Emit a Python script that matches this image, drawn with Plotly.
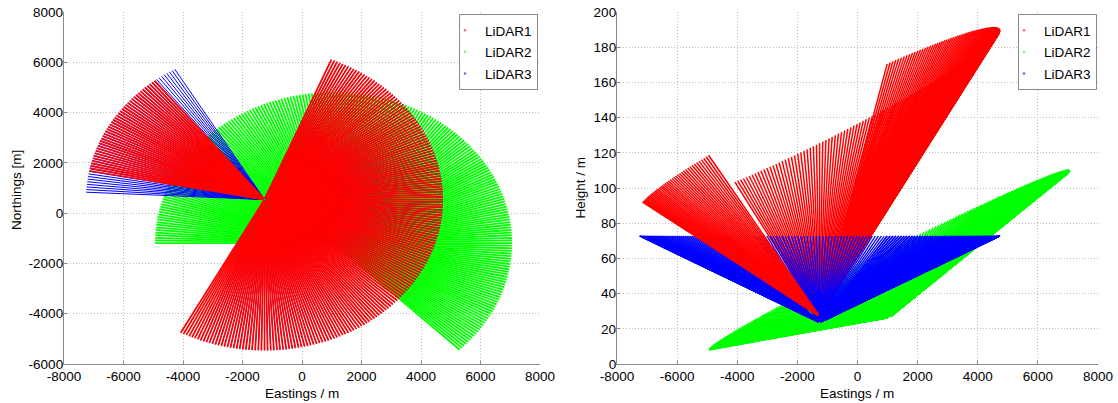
import numpy as np
import plotly.graph_objects as go

# ---------------- data ----------------
NAMES = ["LiDAR1", "LiDAR2", "LiDAR3"]
COLORS = ["#ff0000", "#00ff00", "#0000ff"]
SITE_EAST = [-1260.0, 1060.0, -1260.0]      # m
SITE_NORTH = [540.0, -1190.0, 540.0]        # m
SITE_HEIGHT = [27.0, 26.5, 23.5]            # m
# scan sectors, azimuth in degrees clockwise from north: [start, end]
SECTORS_1 = [[281.0, 322.6], [22.0, 208.8]]
SECTORS_2 = [[270.0, 495.0]]
SECTORS_3 = [[272.8, 330.5], [22.0, 201.0]]
SECTORS = [SECTORS_1, SECTORS_2, SECTORS_3]
ELEV_BASE = [1.07, 0.31, 0.47]     # deg
ELEV_TILT = [0.50, 0.49, 0.0]      # deg
TILT_AZIMUTH = [75.0, 83.0, 0.0]   # deg
RANGE_MIN = [60.0, 60.0, 60.0]     # m
RANGE_MAX = [6000.0, 6000.0, 6000.0]
AZ_STEP = [1.0, 1.0, 1.0]          # deg

X_TICKS = [-8000, -6000, -4000, -2000, 0, 2000, 4000, 6000, 8000]
X_LABELS = ["-8000", "-6000", "-4000", "-2000", "0", "2000", "4000", "6000", "8000"]
N_TICKS = [-6000, -4000, -2000, 0, 2000, 4000, 6000, 8000]
N_LABELS = ["-6000", "-4000", "-2000", "0", "2000", "4000", "6000", "8000"]
H_TICKS = [0, 20, 40, 60, 80, 100, 120, 140, 160, 180, 200]
H_LABELS = [str(v) for v in H_TICKS]


def sector_rays(i, sector):
    """Beam lines (start/end points) of one scan sector of lidar i."""
    a0, a1 = sector
    az = np.arange(a0, a1 + 1e-6, AZ_STEP[i])
    elev = ELEV_BASE[i] + ELEV_TILT[i] * np.cos(np.radians(az - TILT_AZIMUTH[i]))
    e, n, h = [], [], []
    for a, el in zip(az, elev):
        for r in (RANGE_MIN[i], RANGE_MAX[i]):
            e.append(SITE_EAST[i] + r * np.sin(np.radians(a)))
            n.append(SITE_NORTH[i] + r * np.cos(np.radians(a)))
            h.append(SITE_HEIGHT[i] + r * np.sin(np.radians(el)))
        e.append(None); n.append(None); h.append(None)
    return e, n, h


def all_rays(i, which=None):
    E, N, H = [], [], []
    secs = SECTORS[i] if which is None else [SECTORS[i][k] for k in which]
    for s in secs:
        e, n, h = sector_rays(i, s)
        E += e; N += n; H += h
    return E, N, H


fig = go.Figure()
LW_PLAN = [1.7, 1.8, 1.0]
LW_SIDE = [1.5, 1.6, 1.3]

# plan view: green under blue under red
for i in (1, 2, 0):
    E, N, H = all_rays(i)
    fig.add_trace(go.Scatter(x=E, y=N, mode="lines", line=dict(color=COLORS[i], width=LW_PLAN[i]),
                             showlegend=False, hoverinfo="skip", xaxis="x", yaxis="y"))

# side view (Eastings vs Height)
for i, which in ((1, None), (0, [1]), (2, None), (0, [0])):
    E, N, H = all_rays(i, which)
    fig.add_trace(go.Scatter(x=E, y=H, mode="lines", line=dict(color=COLORS[i], width=LW_SIDE[i]),
                             showlegend=False, hoverinfo="skip", xaxis="x2", yaxis="y2"))

# legend entries
for i in range(3):
    for lg, ax, ay in (("legend", "x", "y"), ("legend2", "x2", "y2")):
        fig.add_trace(go.Scatter(x=[None], y=[None], mode="markers", name=NAMES[i],
                                 marker=dict(color=COLORS[i], size=2.5, opacity=0.6), legend=lg,
                                 legendgroup=NAMES[i] + lg, legendrank=i + 1,
                                 xaxis=ax, yaxis=ay))

FONT = "Liberation Sans, Arial, sans-serif"
W, Hh = 1118, 403
axis_common = dict(showgrid=True, gridcolor="#bdbdbd", griddash="1px,2px", gridwidth=1,
                   zeroline=False, showline=True, linecolor="#8a8a8a", linewidth=1.3,
                   ticks="inside", ticklen=3, tickcolor="#8a8a8a", mirror=False,
                   automargin=False,
                   tickfont=dict(family=FONT, size=13.5, color="black"))

legend_common = dict(yanchor="top", y=(Hh - 14) / Hh, xanchor="right",
                     bordercolor="#8a8a8a", borderwidth=1, bgcolor="white",
                     font=dict(family=FONT, size=13.5), tracegroupgap=1,
                     indentation=-15, itemwidth=30)

ann_common = dict(xref="paper", yref="paper", showarrow=False, xanchor="center",
                  yanchor="middle", font=dict(family=FONT, size=13.5, color="black"))

fig.update_layout(
    width=W, height=Hh, margin=dict(l=0, r=0, t=0, b=0),
    paper_bgcolor="white", plot_bgcolor="white",
    font=dict(family=FONT, size=13.5, color="black"),
    xaxis=dict(domain=[64 / W, 540 / W], range=[-8000, 8000], tickvals=X_TICKS, ticktext=X_LABELS,
               anchor="y", **axis_common),
    yaxis=dict(domain=[(Hh - 364) / Hh, (Hh - 12) / Hh], range=[-6000, 8000], tickvals=N_TICKS,
               ticktext=N_LABELS, anchor="x", ticklabelstandoff=-3, **axis_common),
    xaxis2=dict(domain=[617 / W, 1098 / W], range=[-8000, 8000], tickvals=X_TICKS, ticktext=X_LABELS,
                anchor="y2", **axis_common),
    yaxis2=dict(domain=[(Hh - 364) / Hh, (Hh - 12) / Hh], range=[0, 200], tickvals=H_TICKS,
                ticktext=H_LABELS, anchor="x2", ticklabelstandoff=-3, **axis_common),
    legend=dict(x=538 / W, **legend_common),
    legend2=dict(x=1097 / W, **legend_common),
    annotations=[
        dict(text="Eastings / m", x=302 / W, y=(Hh - 393) / Hh, **ann_common),
        dict(text="Eastings / m", x=857.5 / W, y=(Hh - 393) / Hh, **ann_common),
        dict(text="Northings [m]", x=16 / W, y=(Hh - 190) / Hh, textangle=-90, **ann_common),
        dict(text="Height / m", x=580.5 / W, y=(Hh - 188) / Hh, textangle=-90, **ann_common),
    ],
)

fig.write_html("out.html")
